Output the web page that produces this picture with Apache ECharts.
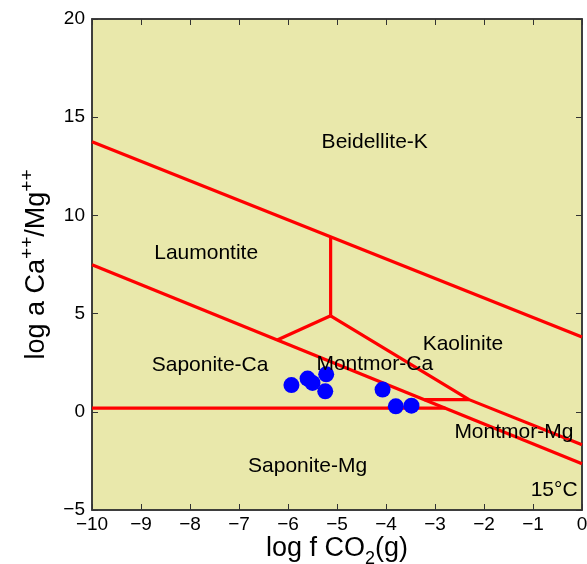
<!DOCTYPE html>
<html><head><meta charset="utf-8">
<script src="https://cdn.jsdelivr.net/npm/echarts@6/dist/echarts.min.js"></script>
<style>html,body{margin:0;padding:0;background:#fff}#c{width:587px;height:564px}</style>
</head><body><div id="c"></div>
<script>
// Sample points (log f CO2, log a Ca++/Mg++)
var sampleX = [-5.93, -5.60, -5.50, -5.24, -5.22, -4.07, -3.80, -3.48];
var sampleY = [1.36, 1.69, 1.47, 1.04, 1.91, 1.13, 0.28, 0.31];

// Phase boundaries
var bndBeidellite = [[-10, 13.75], [0, 3.81]];
var bndLower = [[-10, 7.49], [0, -2.64]];
var bndVertical = [[-5.13, 8.91], [-5.13, 4.89]];
var bndLaumSap = [[-6.22, 3.66], [-5.13, 4.89]];
var bndKaolinite = [[-5.13, 4.89], [-2.305, 0.62], [0, -1.68]];
var bndMontCaMg = [[-3.22, 0.62], [-2.305, 0.62]];
var bndSaponite = [[-10, 0.19], [-2.79, 0.19]];

// Field labels
var fieldNames = ['Beidellite-K', 'Laumontite', 'Kaolinite', 'Saponite-Ca', 'Montmor-Ca', 'Saponite-Mg', 'Montmor-Mg'];
var fieldX = [-4.23, -7.67, -2.43, -7.59, -4.23, -5.60, -1.39];
var fieldY = [13.75, 8.1, 3.45, 2.35, 2.4, -2.75, -1.05];
var tempLabel = '15°C';

var xTicks = {min: -10, max: 0, interval: 1};
var yTicks = {min: -5, max: 20, interval: 5};

var FONT = 'Liberation Sans, Arial, Helvetica, sans-serif';
function fmt(v){ return v < 0 ? '\u2212' + Math.abs(v) : String(v); }

var boundaries = [bndBeidellite, bndLower, bndVertical, bndLaumSap, bndKaolinite, bndMontCaMg, bndSaponite];
var series = boundaries.map(function(b){
  return {type:'line', data:b, symbol:'none', silent:true, animation:false,
    lineStyle:{color:'#ff0000', width:3.2}, z:2};
});
series.push({type:'scatter', data: sampleX.map(function(x,i){return [x, sampleY[i]];}),
  symbol:'circle', symbolSize:16, itemStyle:{color:'#0000ff', opacity:1}, z:3, animation:false});
series.push({type:'scatter', symbolSize:0, z:4, animation:false, silent:true,
  data: fieldNames.map(function(n,i){return {name:n, value:[fieldX[i], fieldY[i]]};}),
  label:{show:true, position:'inside', formatter:'{b}', color:'#000', opacity:1, fontSize:21, fontFamily:FONT}});
series.push({type:'scatter', symbolSize:0, z:4, animation:false, silent:true,
  data:[{name:tempLabel, value:[-0.09, -3.97]}],
  label:{show:true, position:'left', distance:0, formatter:'{b}', color:'#000', opacity:1, fontSize:21, fontFamily:FONT}});

function axLine(){ return {show:true, onZero:false, lineStyle:{color:'#333', width:1.5}}; }
function tick(){ return {show:true, inside:true, length:6, lineStyle:{color:'#333'}}; }
var chart = echarts.init(document.getElementById('c'), null, {renderer:'canvas'});
chart.setOption({
  animation:false,
  grid:{left:92, right:5, top:19, bottom:54, outerBoundsMode:'none', containLabel:false,
    show:true, backgroundColor:'#e9e8ab', borderColor:'#333', borderWidth:1.5},
  xAxis:[{type:'value', min:xTicks.min, max:xTicks.max, interval:xTicks.interval,
    axisLine:axLine(), axisTick:tick(), splitLine:{show:false},
    axisLabel:{formatter:fmt, color:'#000', fontSize:19, fontFamily:FONT, margin:5},
    name:'{b|log f CO}{s|2}{b|(g)}', nameLocation:'middle', nameGap:20, nameMoveOverlap:false,
    nameTextStyle:{rich:{
      b:{fontSize:27, lineHeight:32, fontFamily:FONT, color:'#000', verticalAlign:'bottom'},
      s:{fontSize:18, lineHeight:18, fontFamily:FONT, color:'#000', verticalAlign:'bottom', padding:[0,0,-6,0]}}}},
   {type:'value', position:'top', min:xTicks.min, max:xTicks.max, interval:xTicks.interval,
    axisLine:axLine(), axisTick:tick(), axisLabel:{show:false}, splitLine:{show:false}}],
  yAxis:[{type:'value', min:yTicks.min, max:yTicks.max, interval:yTicks.interval,
    axisLine:axLine(), axisTick:tick(), splitLine:{show:false},
    axisLabel:{formatter:fmt, color:'#000', fontSize:19, fontFamily:FONT, margin:7},
    name:'{b|log a Ca}{p|++}{b|/Mg}{p|++}', nameLocation:'middle', nameGap:42, nameRotate:90, nameMoveOverlap:false,
    nameTextStyle:{rich:{
      b:{fontSize:27, lineHeight:32, fontFamily:FONT, color:'#000', verticalAlign:'bottom'},
      p:{fontSize:19, lineHeight:19, fontFamily:FONT, color:'#000', verticalAlign:'top', padding:[0,0,10,0]}}}},
   {type:'value', position:'right', min:yTicks.min, max:yTicks.max, interval:yTicks.interval,
    axisLine:axLine(), axisTick:tick(), axisLabel:{show:false}, splitLine:{show:false}}],
  series:series
});
</script></body></html>
